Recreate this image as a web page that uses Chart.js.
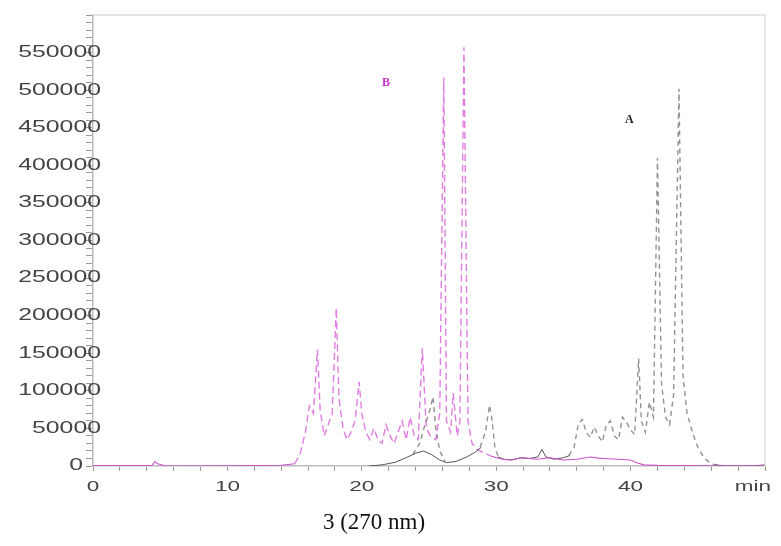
<!DOCTYPE html>
<html>
<head>
<meta charset="utf-8">
<script src="https://cdn.jsdelivr.net/npm/chart.js@4.4.1/dist/chart.umd.min.js"></script>
<style>
  body { margin: 0; background: #fff; }
  #wrap { position: relative; width: 781px; height: 546px; }
  #caption {
    position: absolute; left: 374px; top: 522px;
    transform: translate(-50%, -50%);
    font: 23px "Liberation Serif", "Times New Roman", serif; color: #111;
    white-space: nowrap;
  }
</style>
</head>
<body>
<div id="wrap">
  <canvas id="myChart" width="781" height="546"></canvas>
  <div id="caption">3 (270 nm)</div>
</div>
<script>
// trace B, peak part (dashed magenta), time in min
const bPeakTime = [15.0, 15.4, 15.8, 16.1, 16.4, 16.7, 16.9, 17.2, 17.5, 17.8, 18.1, 18.3, 18.6, 18.9, 19.2, 19.5, 19.8, 20.0, 20.3, 20.6, 20.9, 21.2, 21.5, 21.8, 22.1, 22.4, 22.7, 23.0, 23.3, 23.6, 23.9, 24.2, 24.5, 24.8, 25.1, 25.5, 25.8, 26.1, 26.3, 26.6, 26.8, 27.1, 27.3, 27.6, 27.9, 28.2, 28.6, 29.0, 29.5];
const bPeakValue = [3000, 15000, 45000, 80000, 70000, 155000, 75000, 40000, 55000, 70000, 210000, 90000, 50000, 35000, 45000, 60000, 112000, 70000, 45000, 35000, 50000, 35000, 30000, 55000, 40000, 30000, 45000, 60000, 35000, 65000, 40000, 35000, 157000, 50000, 40000, 35000, 70000, 517000, 60000, 45000, 97000, 40000, 60000, 557000, 60000, 30000, 22000, 18000, 14000];

// trace B, baseline part (solid magenta)
const bBaseTime = [0, 4.4, 4.6, 4.8, 5.3, 6.0, 10.0, 14.0, 15.0, 15.2, 29.5, 30.0, 30.5, 31.0, 32.0, 33.0, 34.0, 35.0, 36.0, 37.0, 37.6, 38.0, 39.0, 40.0, 40.5, 41.0, 42.0, 44.0, 46.0, 50.0];
const bBaseValue = [500, 800, 6000, 3000, 600, 0, 300, 1000, 3000, null, 14000, 11000, 9000, 8000, 11000, 9000, 11000, 8000, 9000, 12000, 10500, 10000, 9000, 8000, 4000, 1500, 800, 500, 300, 200];

// trace A, peak part (dotted grey)
const aPeakTime = [23.8, 24.3, 24.7, 25.0, 25.3, 25.5, 25.8, 26.2, 26.5, 28.8, 29.2, 29.5, 29.7, 29.9, 30.2, 30.5, 35.4, 35.8, 36.1, 36.4, 36.7, 37.0, 37.3, 37.6, 37.9, 38.2, 38.5, 38.8, 39.1, 39.4, 39.7, 40.0, 40.3, 40.6, 40.8, 41.1, 41.4, 41.7, 42.0, 42.3, 42.6, 42.9, 43.2, 43.6, 43.9, 44.2, 44.6, 45.0, 45.5, 46.0, 46.6];
const aPeakValue = [15000, 30000, 55000, 70000, 92000, 50000, 20000, 6000, null, 25000, 45000, 81000, 60000, 25000, 10000, null, 14000, 25000, 55000, 62000, 45000, 38000, 52000, 40000, 32000, 55000, 60000, 40000, 35000, 65000, 58000, 48000, 42000, 143000, 60000, 45000, 85000, 65000, 410000, 110000, 65000, 55000, 95000, 502000, 120000, 70000, 45000, 25000, 10000, 3000, 500];

// trace A, baseline part (solid black)
const aBaseTime = [20.5, 21.5, 22.5, 23.3, 24.0, 24.6, 25.2, 25.8, 26.3, 27.0, 27.8, 28.4, 28.9, 29.2, 30.1, 30.6, 31.2, 31.8, 32.5, 33.1, 33.4, 33.7, 34.3, 35.0, 35.5, 35.8, 46.3, 47.0, 48.0, 49.0, 50.0];
const aBaseValue = [0, 1500, 5000, 11000, 17000, 20000, 15000, 8000, 4500, 6000, 12000, 18000, 25000, null, 12000, 9000, 8000, 11000, 10000, 12000, 22000, 12000, 9000, 11000, 14000, null, 1500, 300, 0, 0, 1500];

// peak labels
const noteText = ['B', 'A'];
const noteTime = [21.8, 39.9];
const noteValue = [510000, 460000];
const noteColor = ['#c833c8', '#222222'];

function pts(times, values) {
    return times.map((t, i) => ({ x: t, y: values[i] }));
}

// tick labels in the reference are stretched sideways, so they are drawn here
const stretchedLabels = {
    id: 'stretchedLabels',
    afterDraw(chart) {
        const ctx = chart.ctx;
        const xs = chart.scales.x;
        const ys = chart.scales.y;
        const area = chart.chartArea;

        // light frame on top and right
        ctx.save();
        ctx.strokeStyle = '#dddddd';
        ctx.lineWidth = 1.5;
        ctx.beginPath();
        ctx.moveTo(area.left, area.top);
        ctx.lineTo(area.right, area.top);
        ctx.lineTo(area.right, area.bottom);
        ctx.stroke();
        ctx.restore();

        ctx.save();
        ctx.fillStyle = '#444444';
        ctx.textBaseline = 'middle';
        ctx.font = '16px "Liberation Sans", Arial, sans-serif';
        ys.ticks.forEach(t => {
            if (t.value % 50000 !== 0 || t.value > 550000) return;
            const py = ys.getPixelForValue(t.value);
            const right = t.value === 0 ? ys.right - 10 : ys.right + 8;
            ctx.save();
            ctx.translate(right, py);
            ctx.scale(1.55, 1);
            ctx.textAlign = 'right';
            ctx.fillText(String(t.value), 0, 0);
            ctx.restore();
        });
        ctx.font = '15px "Liberation Sans", Arial, sans-serif';
        xs.ticks.forEach(t => {
            if (t.value % 10 !== 0 || t.value > 40) return;
            const px = xs.getPixelForValue(t.value);
            ctx.save();
            ctx.translate(px, xs.top + 21);
            ctx.scale(1.5, 1);
            ctx.textAlign = 'center';
            ctx.fillText(String(t.value), 0, 0);
            ctx.restore();
        });
        ctx.save();
        ctx.translate(area.right - 12, xs.top + 21);
        ctx.scale(1.5, 1);
        ctx.textAlign = 'center';
        ctx.fillText('min', 0, 0);
        ctx.restore();

        ctx.font = 'bold 12px "Liberation Serif", serif';
        ctx.textAlign = 'center';
        noteText.forEach((s, i) => {
            ctx.fillStyle = noteColor[i];
            ctx.fillText(s, xs.getPixelForValue(noteTime[i]), ys.getPixelForValue(noteValue[i]));
        });
        ctx.restore();
    }
};

const ctx = document.getElementById('myChart').getContext('2d');
const chart = new Chart(ctx, {
    type: 'scatter',
    data: {
        datasets: [{
            label: 'B base',
            data: pts(bBaseTime, bBaseValue),
            borderColor: '#cc55cc',
            borderWidth: 1.1,
            showLine: true,
            spanGaps: false,
            pointRadius: 0
        }, {
            label: 'A base',
            data: pts(aBaseTime, aBaseValue),
            borderColor: '#555555',
            borderWidth: 1,
            showLine: true,
            spanGaps: false,
            pointRadius: 0
        }, {
            label: 'A',
            data: pts(aPeakTime, aPeakValue),
            borderColor: 'rgba(110, 110, 110, 0.75)',
            borderWidth: 1.4,
            borderDash: [5, 4],
            showLine: true,
            spanGaps: false,
            pointRadius: 0
        }, {
            label: 'B',
            data: pts(bPeakTime, bPeakValue),
            borderColor: 'rgba(215, 80, 215, 0.75)',
            borderWidth: 1.4,
            borderDash: [7, 4],
            showLine: true,
            pointRadius: 0
        }]
    },
    options: {
        responsive: false,
        animation: false,
        layout: { padding: { left: 0, top: 15, right: 16, bottom: 0 } },
        plugins: {
            legend: { display: false },
            tooltip: { enabled: false }
        },
        scales: {
            x: {
                type: 'linear',
                min: 0,
                max: 50,
                afterFit: s => { s.height = 80; },
                ticks: { stepSize: 2, display: false, autoSkip: false },
                grid: { drawOnChartArea: false, tickLength: 5, color: '#999999' },
                border: { color: '#bbbbbb', width: 1.5 }
            },
            y: {
                min: 0,
                max: 600000,
                afterFit: s => { s.width = 93; },
                ticks: { stepSize: 10000, display: false, autoSkip: false },
                grid: { drawOnChartArea: false, tickLength: 7, color: '#999999' },
                border: { color: '#bbbbbb', width: 1.5 }
            }
        }
    },
    plugins: [stretchedLabels]
});
</script>
</body>
</html>
